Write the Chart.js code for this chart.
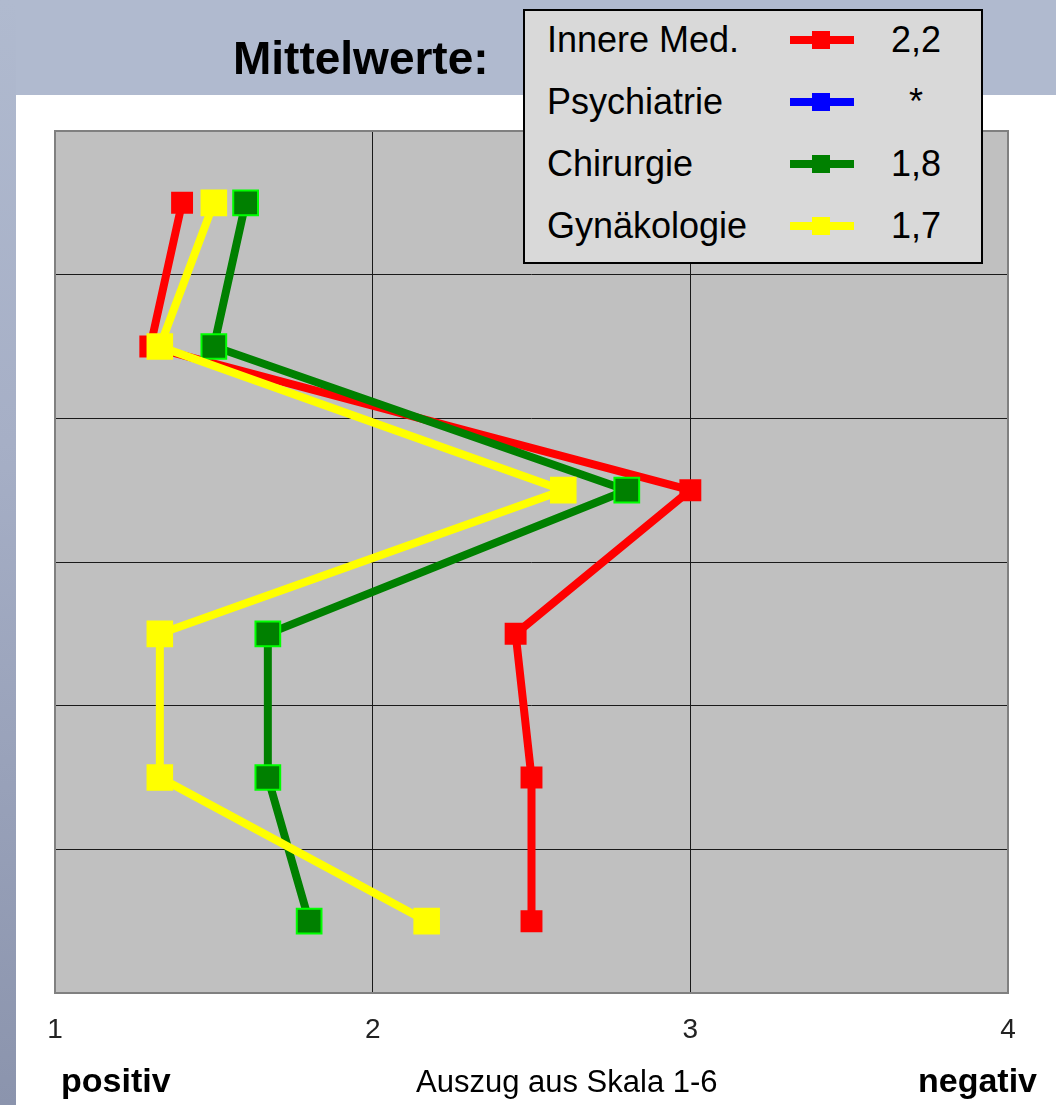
<!DOCTYPE html>
<html>
<head>
<meta charset="utf-8">
<script src="https://cdn.jsdelivr.net/npm/chart.js@4.4.1/dist/chart.umd.min.js"></script>
<style>
  html, body { margin: 0; padding: 0; }
  body { width: 1056px; height: 1105px; position: relative; overflow: hidden; background: #ffffff;
         font-family: "Liberation Sans", Arial, Helvetica, sans-serif; }
  #topband { position: absolute; left: 0; top: 0; width: 1056px; height: 95px; background: #b0bacf; }
  #leftstrip { position: absolute; left: 0; top: 0; width: 16px; height: 1105px;
               background: linear-gradient(#b0bacf 0%, #a6afc6 40%, #8b94ad 100%); }
  #chartwrap { position: absolute; left: 0; top: 0; width: 1056px; height: 1105px; }
  .txt { position: absolute; white-space: nowrap; line-height: 1; color: #000; }
  #title { left: 233px; top: 35px; font-size: 46px; font-weight: bold; }
  #legend { position: absolute; left: 523px; top: 9px; width: 456px; height: 251px;
            background: #d9d9d9; border: 2px solid #000; }
  .lg-label { font-size: 36px; }
  .lg-val { font-size: 36px; width: 100px; text-align: center; }
  .lg-line { position: absolute; height: 8px; width: 64px; }
  .lg-box { position: absolute; width: 18px; height: 18px; }
  #positiv { left: 61px; top: 1063px; font-size: 34px; font-weight: bold; }
  #auszug { left: 416px; top: 1066px; font-size: 31px; }
  #negativ { right: 19px; top: 1063px; font-size: 34px; font-weight: bold; }
</style>
</head>
<body>
<div id="topband"></div>
<div id="leftstrip"></div>
<div id="chartwrap"><canvas id="c" width="1056" height="1105"></canvas></div>
<div class="txt" id="title">Mittelwerte:</div>
<div id="legend"></div>
<div class="txt" id="positiv">positiv</div>
<div class="txt" id="auszug">Auszug aus Skala 1-6</div>
<div class="txt" id="negativ">negativ</div>
<script>
// ---- data ----
const categories   = ['1', '2', '3', '4', '5', '6'];
const innereMed    = [1.40, 1.30, 3.00, 2.45, 2.50, 2.50];
const psychiatrie  = [null, null, null, null, null, null];
const chirurgie    = [1.60, 1.50, 2.80, 1.67, 1.67, 1.80];
const gynaekologie = [1.50, 1.33, 2.60, 1.33, 1.33, 2.17];
const seriesNames  = ['Innere Med.', 'Psychiatrie', 'Chirurgie', 'Gynäkologie'];
const meanLabels   = ['2,2', '*', '1,8', '1,7'];
const xTicks       = [1, 2, 3, 4];

const seriesColors = ['#ff0000', '#0000ff', '#008000', '#ffff00'];

// ---- legend (HTML) ----
const legend = document.getElementById('legend');
const rowBaselines = [52, 114, 176, 238];
seriesNames.forEach((name, i) => {
  const base = rowBaselines[i] - 11; // relative to legend inner box
  const lab = document.createElement('div');
  lab.className = 'txt lg-label';
  lab.style.left = (547 - 525) + 'px';
  lab.style.top = (base - 0.8465 * 36) + 'px';
  lab.textContent = name;
  legend.appendChild(lab);

  const line = document.createElement('div');
  line.className = 'lg-line';
  line.style.background = seriesColors[i];
  line.style.left = (790 - 525) + 'px';
  line.style.top = (base - 12 - 4) + 'px';
  legend.appendChild(line);

  const box = document.createElement('div');
  box.className = 'lg-box';
  box.style.background = seriesColors[i];
  box.style.left = (812 - 525) + 'px';
  box.style.top = (base - 12 - 9) + 'px';
  legend.appendChild(box);

  const val = document.createElement('div');
  val.className = 'txt lg-val';
  val.style.left = (916 - 50 - 525) + 'px';
  val.style.top = (base - 0.8465 * 36) + 'px';
  val.textContent = meanLabels[i];
  legend.appendChild(val);
});

// ---- chart ----
const plotBg = {
  id: 'plotBg',
  beforeDraw(chart) {
    const { ctx, chartArea: a } = chart;
    ctx.save();
    ctx.fillStyle = '#c0c0c0';
    ctx.fillRect(a.left, a.top, a.right - a.left, a.bottom - a.top);
    ctx.restore();
  },
  beforeDatasetsDraw(chart) {
    const { ctx, chartArea: a } = chart;
    ctx.save();
    ctx.strokeStyle = '#808080';
    ctx.lineWidth = 2;
    ctx.strokeRect(a.left, a.top, a.right - a.left, a.bottom - a.top);
    ctx.restore();
  }
};

const mk = (i, data, radius, borderColor, borderW, order) => ({
  label: seriesNames[i],
  data: data,
  borderColor: seriesColors[i],
  backgroundColor: seriesColors[i],
  borderWidth: 8,
  tension: 0,
  pointStyle: 'rect',
  pointRadius: radius,
  pointHoverRadius: radius,
  pointBackgroundColor: seriesColors[i],
  pointBorderColor: borderColor,
  pointBorderWidth: borderW,
  order: order,
  spanGaps: false
});

new Chart(document.getElementById('c'), {
  type: 'line',
  data: {
    labels: categories,
    datasets: [
      mk(0, innereMed, 15.5, '#ff0000', 0, 3),
      mk(1, psychiatrie, 15.5, '#0000ff', 0, 2),
      mk(2, chirurgie, 17.5, '#00ff00', 2, 1),
      mk(3, gynaekologie, 18.8, '#ffff00', 0, 0)
    ]
  },
  options: {
    indexAxis: 'y',
    responsive: false,
    devicePixelRatio: 1,
    animation: false,
    events: [],
    layout: { padding: { left: 55, right: 48, top: 131, bottom: 0 } },
    plugins: { legend: { display: false }, tooltip: { enabled: false }, title: { display: false } },
    scales: {
      x: {
        type: 'linear',
        position: 'bottom',
        min: xTicks[0],
        max: xTicks[xTicks.length - 1],
        afterBuildTicks(scale) { scale.ticks = xTicks.map(v => ({ value: v })); },
        afterFit(scale) { scale.height = 112; },
        grid: { color: '#1a1a1a', lineWidth: 1, drawTicks: false },
        border: { display: false },
        ticks: {
          padding: 20,
          color: '#222222',
          font: { family: '"Liberation Sans", Arial, sans-serif', size: 28 },
          callback: v => String(v)
        }
      },
      y: {
        type: 'category',
        offset: true,
        afterFit(scale) { scale.width = 0; },
        grid: { offset: true, color: '#1a1a1a', lineWidth: 1, drawTicks: false },
        border: { display: false },
        ticks: { display: false }
      }
    }
  },
  plugins: [plotBg]
});
</script>
</body>
</html>
